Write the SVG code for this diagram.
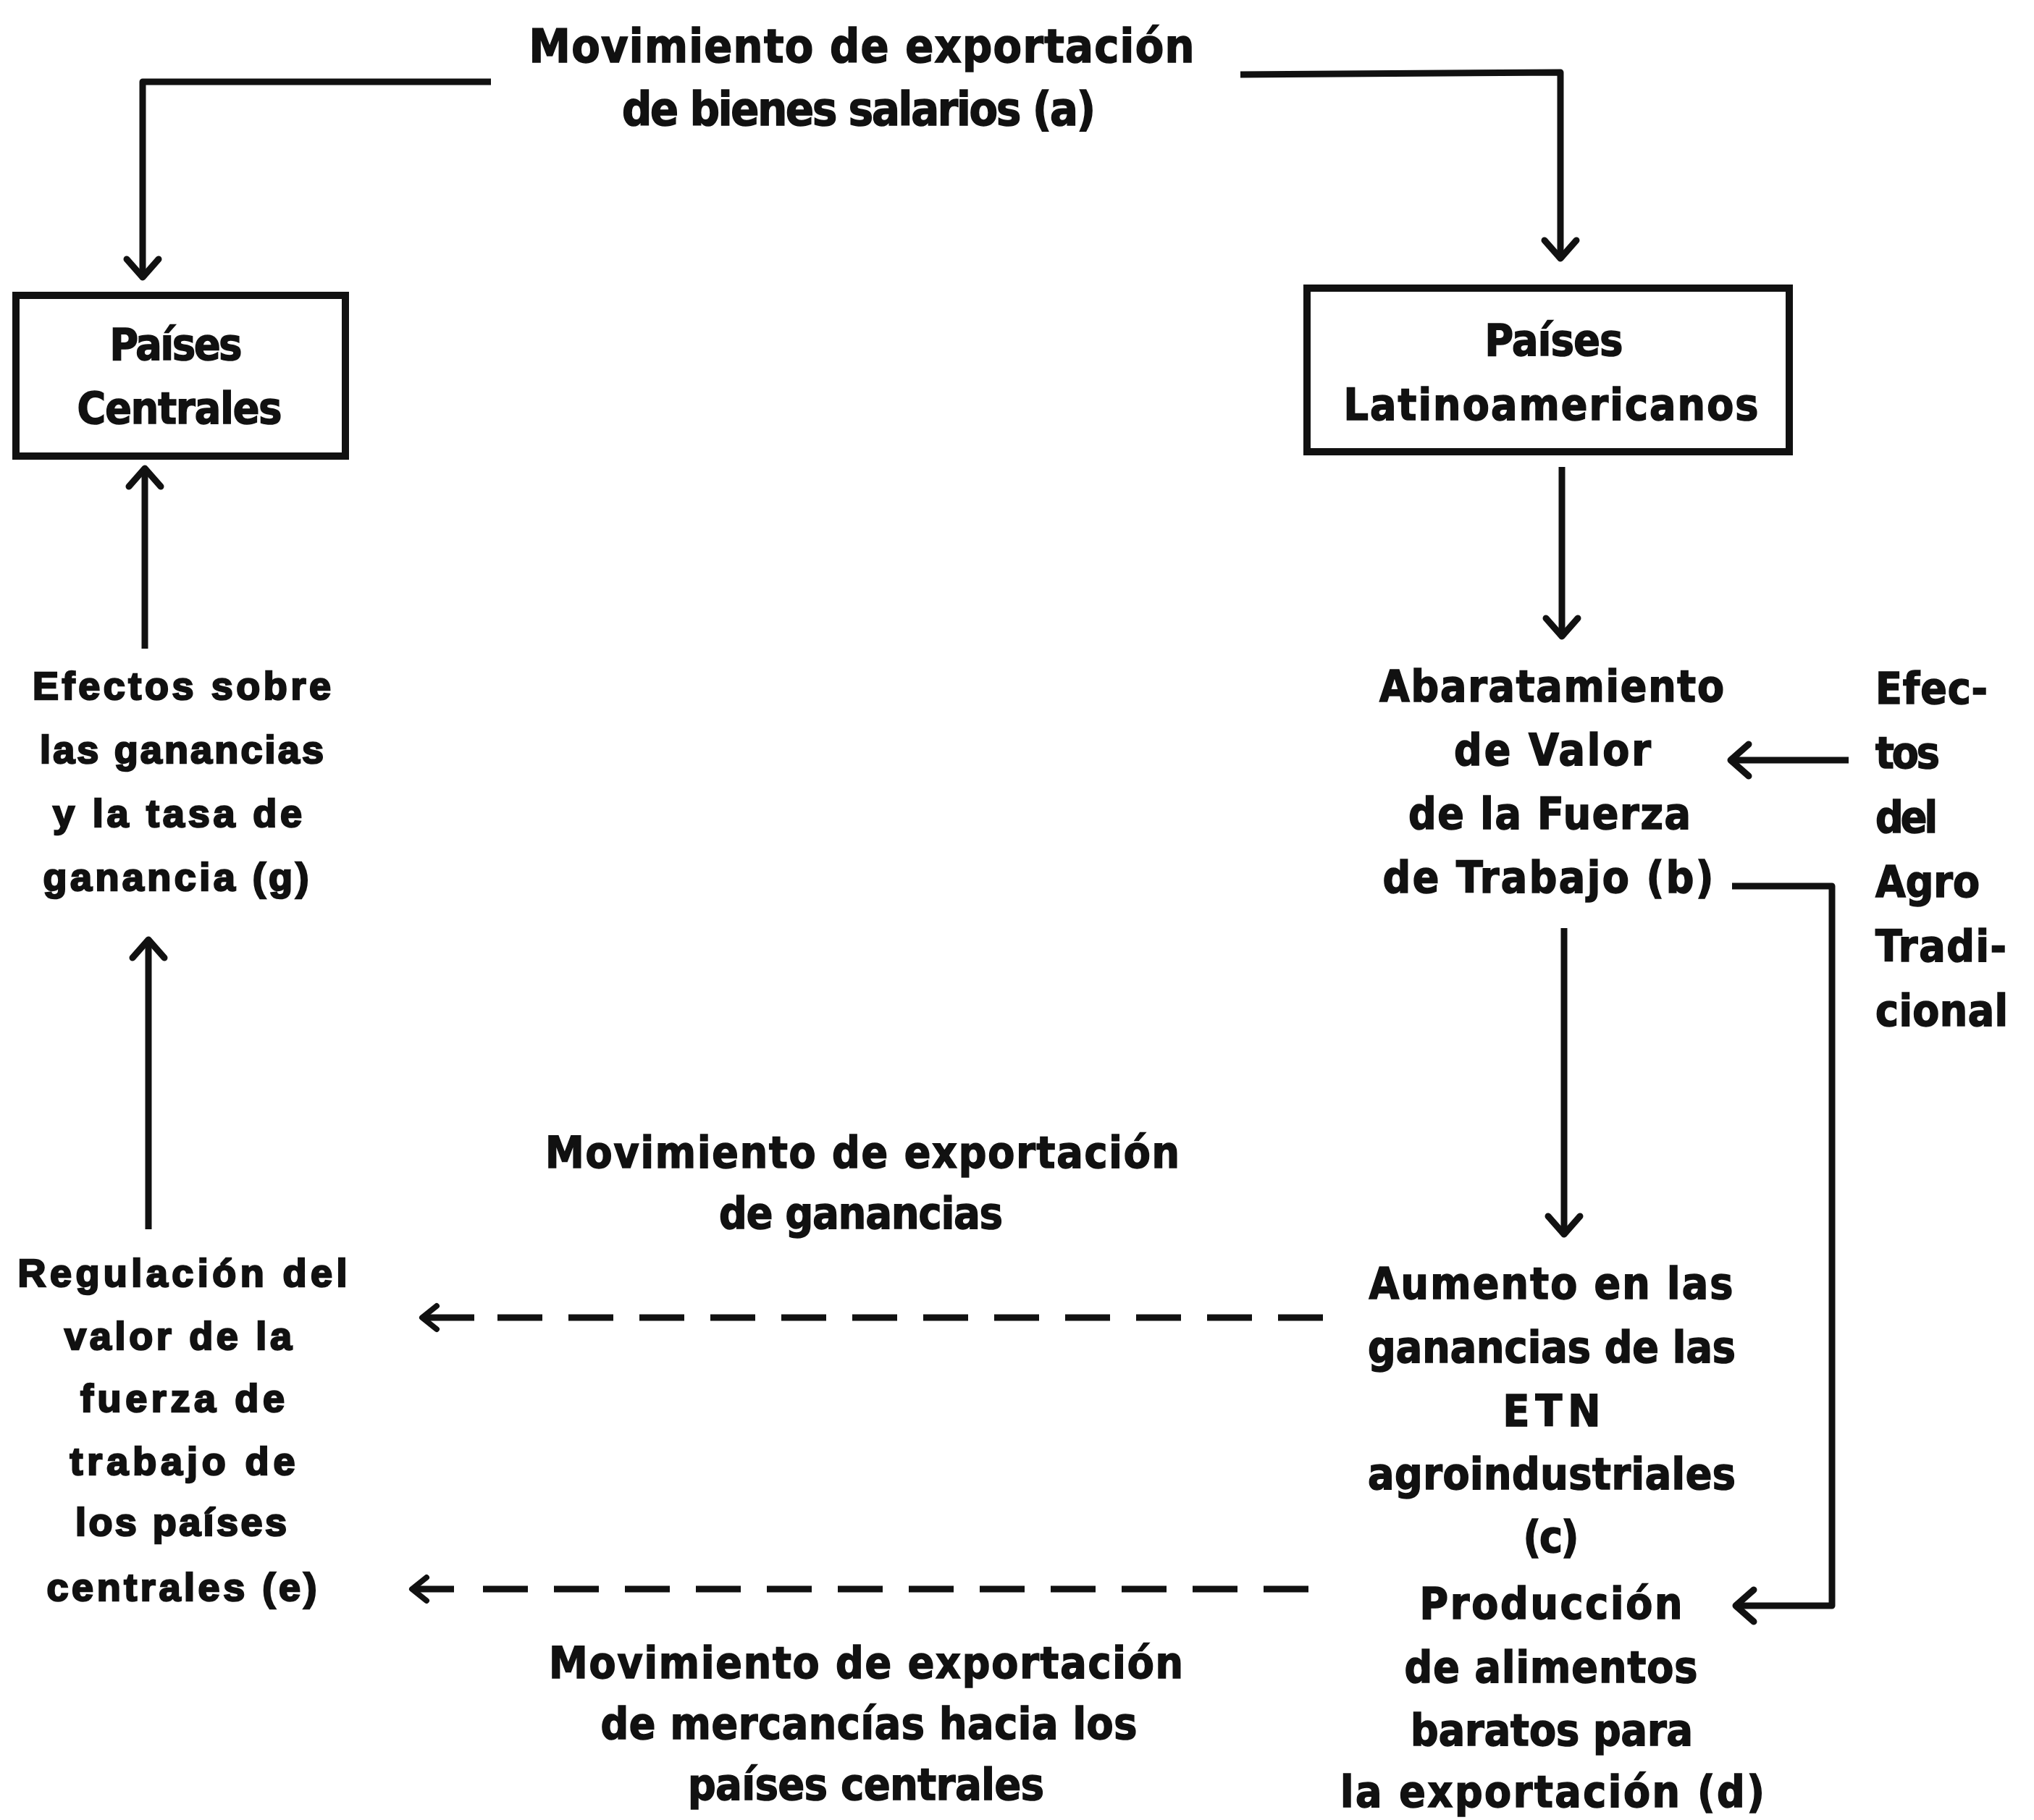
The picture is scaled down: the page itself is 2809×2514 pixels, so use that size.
<svg xmlns="http://www.w3.org/2000/svg" width="2809" height="2514" viewBox="0 0 2809 2514">
<style>
.t{font-family:"Liberation Sans Narrow","DejaVu Sans Condensed","Liberation Sans",Arial,sans-serif;font-weight:bold;font-size:60px;text-anchor:middle;fill:#111;stroke:#111;stroke-width:1.5}
.ti{font-size:64px}
.w{font-family:"Liberation Sans",Arial,sans-serif;font-weight:bold;font-size:54px;text-anchor:middle;fill:#111;stroke:#111;stroke-width:2.5}
.s{text-anchor:start}
.ln{stroke:#111;stroke-width:9;fill:none;stroke-linejoin:round}
.dl{stroke:#111;stroke-width:9;fill:none;stroke-dasharray:62 36}
.box{fill:none;stroke:#111;stroke-width:10}
</style>
<defs>
<marker id="ah" markerUnits="userSpaceOnUse" viewBox="-40 -30 50 60" markerWidth="50" markerHeight="60" refX="0" refY="0" orient="auto" overflow="visible">
<path d="M-25,-22 L0,0 L-25,22" fill="none" stroke="#111" stroke-width="9" stroke-linecap="round" stroke-linejoin="round"/>
</marker>
<marker id="ahs" markerUnits="userSpaceOnUse" viewBox="-30 -20 40 40" markerWidth="40" markerHeight="40" refX="0" refY="0" orient="auto" overflow="visible">
<path d="M-20,-16 L0,0 L-20,16" fill="none" stroke="#111" stroke-width="8" stroke-linecap="round" stroke-linejoin="round"/>
</marker>
</defs>
<rect width="2809" height="2514" fill="#fff"/>

<g id="connectors">
<path class="ln" d="M678,113 H197 V383" marker-end="url(#ah)"/>
<path class="ln" d="M1713,103 L2155,100 V357" marker-end="url(#ah)"/>
<path class="ln" d="M200,896 V647" marker-end="url(#ah)"/>
<path class="ln" d="M2157,645 V879" marker-end="url(#ah)"/>
<path class="ln" d="M2160,1282 V1705" marker-end="url(#ah)"/>
<path class="ln" d="M205,1698 V1298" marker-end="url(#ah)"/>
<path class="ln" d="M2553,1050 H2390" marker-end="url(#ah)"/>
<path class="ln" d="M2392,1224 H2530 V2218 H2397" marker-end="url(#ah)"/>
<path class="ln" d="M655,1820 H583" marker-end="url(#ahs)"/>
<path class="dl" d="M687,1820 H1830"/>
<path class="ln" d="M627,2195 H569" marker-end="url(#ahs)"/>
<path class="dl" d="M667,2195 H1830"/>
</g>

<g id="label-a">
<text class="t ti" x="1190" y="86" textLength="919" lengthAdjust="spacing">Movimiento de exportación</text>
<text class="t ti" x="1186" y="173" textLength="654" lengthAdjust="spacing">de bienes salarios (a)</text>
</g>

<g id="paises-centrales">
<rect class="box" x="22" y="408" width="455" height="222"/>
<text class="t" x="243" y="497" textLength="183" lengthAdjust="spacing">Países</text>
<text class="t" x="248" y="585" textLength="283" lengthAdjust="spacing">Centrales</text>
</g>

<g id="paises-latinoamericanos">
<rect class="box" x="1805" y="398" width="666" height="226"/>
<text class="t" x="2146" y="491" textLength="191" lengthAdjust="spacing">Países</text>
<text class="t" x="2142" y="580" textLength="573" lengthAdjust="spacing">Latinoamericanos</text>
</g>

<g id="node-g">
<text class="w" x="251" y="966" textLength="412" lengthAdjust="spacing">Efectos sobre</text>
<text class="w" x="251" y="1054" textLength="392" lengthAdjust="spacing">las ganancias</text>
<text class="w" x="245" y="1142" textLength="344" lengthAdjust="spacing">y la tasa de</text>
<text class="w" x="243" y="1230" textLength="367" lengthAdjust="spacing">ganancia (g)</text>
</g>

<g id="node-e">
<text class="w" x="252" y="1777" textLength="455" lengthAdjust="spacing">Regulación del</text>
<text class="w" x="246" y="1864" textLength="314" lengthAdjust="spacing">valor de la</text>
<text class="w" x="252" y="1950" textLength="282" lengthAdjust="spacing">fuerza de</text>
<text class="w" x="252" y="2037" textLength="311" lengthAdjust="spacing">trabajo de</text>
<text class="w" x="250" y="2121" textLength="292" lengthAdjust="spacing">los países</text>
<text class="w" x="251" y="2211" textLength="373" lengthAdjust="spacing">centrales (e)</text>
</g>

<g id="node-b">
<text class="t" x="2143" y="969" textLength="476" lengthAdjust="spacing">Abaratamiento</text>
<text class="t" x="2144" y="1057" textLength="272" lengthAdjust="spacing">de Valor</text>
<text class="t" x="2140" y="1145" textLength="390" lengthAdjust="spacing">de la Fuerza</text>
<text class="t" x="2138" y="1233" textLength="457" lengthAdjust="spacing">de Trabajo (b)</text>
</g>

<g id="node-agro">
<text class="t s" x="2590" y="972" textLength="155" lengthAdjust="spacing">Efec-</text>
<text class="t s" x="2590" y="1061" textLength="89" lengthAdjust="spacing">tos</text>
<text class="t s" x="2590" y="1150" textLength="86" lengthAdjust="spacing">del</text>
<text class="t s" x="2590" y="1239" textLength="144" lengthAdjust="spacing">Agro</text>
<text class="t s" x="2590" y="1328" textLength="181" lengthAdjust="spacing">Tradi-</text>
<text class="t s" x="2590" y="1417" textLength="183" lengthAdjust="spacing">cional</text>
</g>

<g id="node-c">
<text class="t" x="2142" y="1794" textLength="503" lengthAdjust="spacing">Aumento en las</text>
<text class="t" x="2143" y="1882" textLength="508" lengthAdjust="spacing">ganancias de las</text>
<text class="t" x="2143" y="1970" textLength="135" lengthAdjust="spacing">ETN</text>
<text class="t" x="2143" y="2057" textLength="508" lengthAdjust="spacing">agroindustriales</text>
<text class="t" x="2142" y="2144" textLength="77" lengthAdjust="spacing">(c)</text>
</g>

<g id="node-d">
<text class="t" x="2142" y="2236" textLength="363" lengthAdjust="spacing">Producción</text>
<text class="t" x="2142" y="2324" textLength="405" lengthAdjust="spacing">de alimentos</text>
<text class="t" x="2143" y="2411" textLength="390" lengthAdjust="spacing">baratos para</text>
<text class="t" x="2144" y="2496" textLength="586" lengthAdjust="spacing">la exportación (d)</text>
</g>

<g id="label-ganancias">
<text class="t" x="1191" y="1613" textLength="876" lengthAdjust="spacing">Movimiento de exportación</text>
<text class="t" x="1189" y="1697" textLength="392" lengthAdjust="spacing">de ganancias</text>
</g>

<g id="label-mercancias">
<text class="t" x="1196" y="2318" textLength="876" lengthAdjust="spacing">Movimiento de exportación</text>
<text class="t" x="1200" y="2402" textLength="741" lengthAdjust="spacing">de mercancías hacia los</text>
<text class="t" x="1196" y="2486" textLength="492" lengthAdjust="spacing">países centrales</text>
</g>
</svg>
